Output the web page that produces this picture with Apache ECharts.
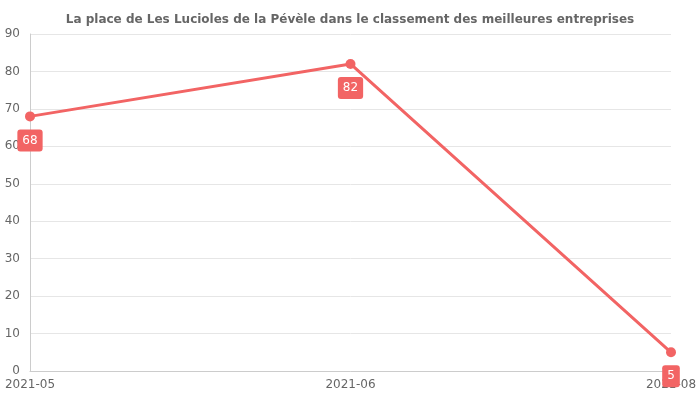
<!DOCTYPE html>
<html><head><meta charset="utf-8">
<script src="https://cdn.jsdelivr.net/npm/echarts@6/dist/echarts.min.js"></script>
<style>html,body{margin:0;padding:0;background:#fff}#c{width:700px;height:400px}</style>
</head><body><div id="c"></div>
<script>
const categories = ['2021-05', '2021-06', '2021-08'];
const values = [68, 82, 5];
const chart = echarts.init(document.getElementById('c'));
chart.setOption({
  animation: false,
  textStyle: { fontFamily: 'DejaVu Sans' },
  title: { text: 'La place de Les Lucioles de la Pévèle dans le classement des meilleures entreprises',
    left: 'center', top: 9, textStyle: { fontSize: 12, fontWeight: 'bold', color: '#666', fontFamily: 'DejaVu Sans' } },
  grid: { left: 30, right: 29, top: 34, bottom: 29 },
  xAxis: { type: 'category', data: categories, boundaryGap: false,
    axisLine: { lineStyle: { color: '#ccc' } }, axisTick: { show: false },
    axisLabel: { color: '#666', fontSize: 12, margin: 8 } },
  yAxis: { type: 'value', min: 0, max: 90, interval: 10,
    axisLine: { show: true, lineStyle: { color: '#ccc' } },
    splitLine: { lineStyle: { color: '#e6e6e6' } },
    axisLabel: { color: '#666', fontSize: 12, margin: 10 } },
  series: [{ type: 'line', data: values, symbol: 'circle', symbolSize: 10,
    itemStyle: { color: '#f26464' }, lineStyle: { width: 3, color: '#f26464' },
    label: { show: true, position: 'bottom', distance: 8, color: '#fff', fontSize: 12,
      backgroundColor: '#f26464', borderRadius: 3, padding: [5, 5] } }]
});
</script></body></html>
